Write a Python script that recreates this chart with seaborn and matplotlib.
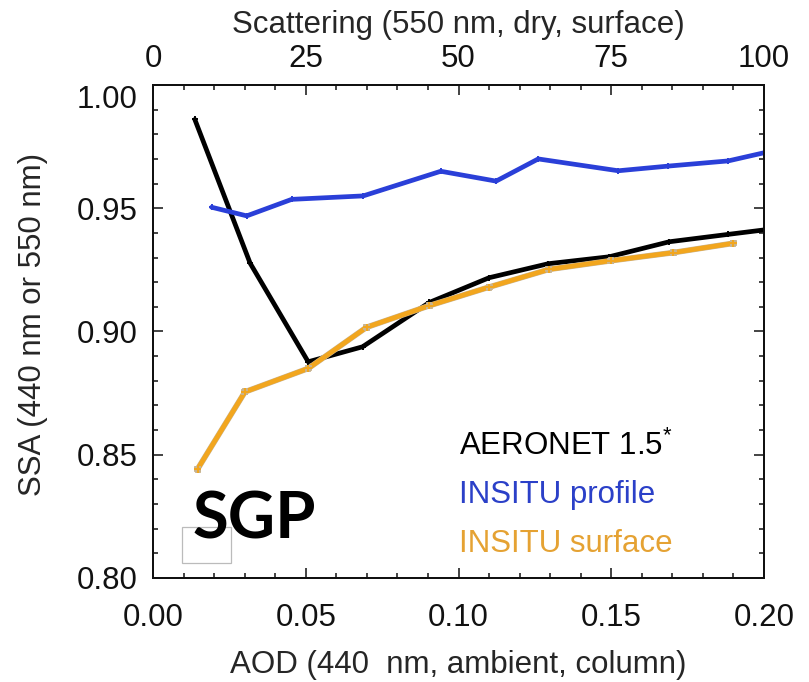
import numpy as np
import pandas as pd
import matplotlib
matplotlib.use("Agg")
import matplotlib.pyplot as plt
import matplotlib.patheffects as pe
from matplotlib.patches import Rectangle
from matplotlib.ticker import MultipleLocator
import seaborn as sns

# SSA versus AOD at SGP
aeronet_aod = [0.0137, 0.0318, 0.0508, 0.0686, 0.0905, 0.1100, 0.1294, 0.1493, 0.1690, 0.1883, 0.2000]
aeronet_ssa = [0.986, 0.9277, 0.8877, 0.8938, 0.9118, 0.9218, 0.9275, 0.9303, 0.9364, 0.9394, 0.9412]

profile_aod = [0.0192, 0.0307, 0.0454, 0.0688, 0.0942, 0.1123, 0.1261, 0.1523, 0.1687, 0.1883, 0.2000]
profile_ssa = [0.9504, 0.9469, 0.9536, 0.9550, 0.9650, 0.9610, 0.9700, 0.9652, 0.9671, 0.9692, 0.9725]

surface_aod = [0.0146, 0.0301, 0.0508, 0.0699, 0.0905, 0.1100, 0.1296, 0.1498, 0.1703, 0.1900]
surface_ssa = [0.8442, 0.8755, 0.8850, 0.9017, 0.9105, 0.9180, 0.9252, 0.9287, 0.9320, 0.9358]

series_names = ["AERONET 1.5", "INSITU profile", "INSITU surface"]
series_colors = ["#000000", "#2a3fd8", "#f2a61e"]
label_colors = ["#000000", "#2b40c8", "#e5a233"]

x_ticks = [0.00, 0.05, 0.10, 0.15, 0.20]
y_ticks = [0.80, 0.85, 0.90, 0.95, 1.00]
top_ticks = [0, 25, 50, 75, 100]

df = pd.concat([
    pd.DataFrame({"aod": aeronet_aod, "ssa": aeronet_ssa, "src": series_names[0]}),
    pd.DataFrame({"aod": profile_aod, "ssa": profile_ssa, "src": series_names[1]}),
    pd.DataFrame({"aod": surface_aod, "ssa": surface_ssa, "src": series_names[2]}),
])

sns.set_style("ticks")
plt.rcParams["font.family"] = ["Liberation Sans", "DejaVu Sans"]
plt.rcParams["mathtext.fontset"] = "custom"
plt.rcParams["mathtext.rm"] = "Liberation Sans"
plt.rcParams["mathtext.it"] = "Liberation Sans"

FS = 22.5

fig = plt.figure(figsize=(8.09, 6.82), dpi=100)
ax = fig.add_axes([0.1891, 0.1525, 0.7553, 0.7229])

sns.lineplot(data=df, x="aod", y="ssa", hue="src", hue_order=series_names,
             palette=dict(zip(series_names, series_colors)), estimator=None,
             sort=False, linewidth=3.4, marker="+", markersize=5,
             markeredgewidth=1.4, legend=False, ax=ax, zorder=3)
for ln in ax.lines:
    ln.set_markeredgecolor(ln.get_color())

# soft grey rim on the surface curve
ax.lines[2].set_path_effects([pe.Stroke(linewidth=4.1, foreground="#c9b48f"), pe.Normal()])

ax.set_xlim(0, 0.20)
ax.set_ylim(0.80, 1.00)
ax.set_xticks(x_ticks)
ax.set_xticklabels([f"{v:.2f}" for v in x_ticks])
ax.set_yticks(y_ticks)
ax.set_yticklabels([f"{v:.2f}" for v in y_ticks])
ax.xaxis.set_minor_locator(MultipleLocator(0.01))
ax.yaxis.set_minor_locator(MultipleLocator(0.01))
ax.tick_params(which="both", direction="in", top=False, right=True, width=1.1, colors="#111111")
ax.tick_params(which="major", length=7.5)
ax.tick_params(which="minor", length=3.8)
ax.tick_params(axis="x", which="major", labelsize=FS, pad=18)
ax.tick_params(axis="y", which="major", labelsize=FS, pad=11)
ax.yaxis.get_majorticklabels()[-1].set_va("top")
for s in ax.spines.values():
    s.set_linewidth(1.4)
    s.set_color("#111111")

ax.set_xlabel("")
ax.set_ylabel("SSA (440 nm or 550 nm)", fontsize=FS)
ax.yaxis.set_label_coords(-0.172, 0.515)

# scattering axis along the top
top = ax.twiny()
top.set_xlim(0, 100)
top.set_xticks(top_ticks)
top.xaxis.set_minor_locator(MultipleLocator(5))
top.tick_params(which="both", direction="in", width=1.1, colors="#111111")
top.tick_params(which="major", length=7.5, labelsize=FS, pad=8)
top.tick_params(which="minor", length=3.8)
top.set_xlabel("Scattering (550 nm, dry, surface)", fontsize=FS, labelpad=8)
for s in top.spines.values():
    s.set_linewidth(1.4)
    s.set_color("#111111")

fig.text(0.5667, 0.003, "AOD (440  nm, ambient, column)", fontsize=FS,
         ha="center", va="bottom")

# legend as coloured text
label_texts = [series_names[0] + "$^{*}$", series_names[1], series_names[2]]
for txt, col, yb in zip(label_texts, label_colors, [0.2495, 0.1527, 0.0533]):
    ax.text(0.501, yb, txt, color=col, fontsize=FS, transform=ax.transAxes,
            ha="left", va="baseline")

ax.add_patch(Rectangle((0.047, 0.030), 0.080, 0.074, transform=ax.transAxes,
                       fill=False, edgecolor="#bbbbbb", linewidth=0.9, zorder=2))
ax.text(0.064, 0.081, "SGP", transform=ax.transAxes, fontsize=47,
        fontweight="bold", family=["Lato", "DejaVu Sans"], ha="left",
        va="baseline", color="black", zorder=4)

fig.savefig("out.png", dpi=100)
